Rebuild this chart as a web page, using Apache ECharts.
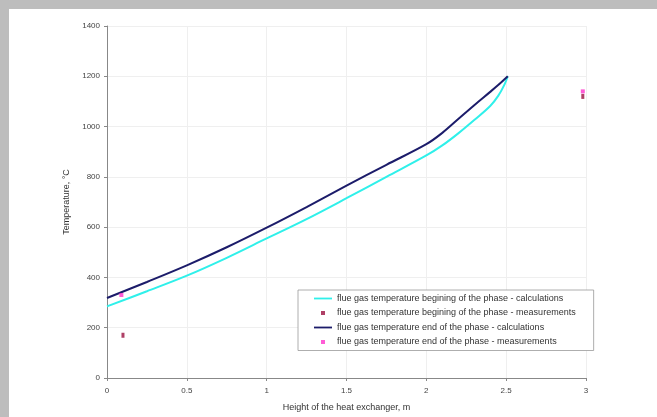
<!DOCTYPE html>
<html>
<head>
<meta charset="utf-8">
<script src="https://cdn.jsdelivr.net/npm/echarts@6/dist/echarts.min.js"></script>
<style>
html,body{margin:0;padding:0;background:#bdbdbd;}
#frame{position:absolute;left:9px;top:9px;width:648px;height:408px;background:#fff;}
#chart{position:absolute;left:0;top:0;width:657px;height:417px;}
</style>
</head>
<body>
<div id="frame"></div>
<div id="chart"></div>
<script>
const beginCalcX = [0, 0.25, 0.5, 0.75, 1.0, 1.25, 1.5, 1.75, 2.0, 2.1, 2.2, 2.3, 2.4, 2.45, 2.49, 2.51];
const beginCalcY = [285, 345, 407, 478, 555, 632, 715, 800, 885, 925, 973, 1026, 1082, 1122, 1168, 1200];
const endCalcX = [0, 0.25, 0.5, 0.75, 1.0, 1.25, 1.5, 1.75, 2.0, 2.1, 2.2, 2.3, 2.4, 2.45, 2.49, 2.51];
const endCalcY = [318, 382, 448, 520, 598, 680, 765, 848, 930, 975, 1030, 1085, 1138, 1165, 1188, 1200];
const beginMeasX = [0.1, 2.98];
const beginMeasY = [170, 1120];
const endMeasX = [0.09, 2.98];
const endMeasY = [330, 1140];
const seriesNames = [
  'flue gas temperature begining of the phase - calculations',
  'flue gas temperature begining of the phase - measurements',
  'flue gas temperature end of the phase - calculations',
  'flue gas temperature end of the phase - measurements'
];
const zip = (xs, ys) => xs.map((x, i) => [x, ys[i]]);
const font = '"Liberation Sans", Arial, sans-serif';
const lineIcon = 'path://M0,0L20,0L20,2L0,2Z';
const dotIcon = 'path://M0,0L1,0L1,1L0,1Z';
const chart = echarts.init(document.getElementById('chart'));
chart.setOption({
  animation: false,
  backgroundColor: 'transparent',
  grid: {left: 107, right: 71, top: 26, bottom: 37},
  legend: {
    orient: 'vertical', left: 298, top: 290,
    padding: [4, 18, 4, 16],
    itemGap: 5.5, itemWidth: 18, itemHeight: 4, symbolKeepAspect: true,
    backgroundColor: '#fff', borderColor: '#999', borderWidth: 0.8,
    textStyle: {fontFamily: font, fontSize: 9, lineHeight: 9, color: '#333'},
    data: [
      {name: seriesNames[0], icon: lineIcon},
      {name: seriesNames[1], icon: dotIcon},
      {name: seriesNames[2], icon: lineIcon},
      {name: seriesNames[3], icon: dotIcon}
    ]
  },
  xAxis: {
    type: 'value', min: 0, max: 3, interval: 0.5,
    name: 'Height of the heat exchanger, m', nameLocation: 'middle', nameGap: 25,
    nameTextStyle: {fontFamily: font, fontSize: 9, color: '#333'},
    axisLine: {show: true, lineStyle: {color: '#888', width: 1}},
    axisTick: {show: true, length: 3, lineStyle: {color: '#888'}},
    axisLabel: {fontFamily: font, fontSize: 8, color: '#444', margin: 9},
    splitLine: {show: true, lineStyle: {color: '#efefef', width: 1}}
  },
  yAxis: {
    type: 'value', min: 0, max: 1400, interval: 200,
    name: 'Temperature, °C', nameLocation: 'middle', nameGap: 33,
    nameTextStyle: {fontFamily: font, fontSize: 9, color: '#333'},
    axisLine: {show: true, lineStyle: {color: '#888', width: 1}},
    axisTick: {show: true, length: 3, lineStyle: {color: '#888'}},
    axisLabel: {fontFamily: font, fontSize: 8, color: '#444', margin: 7, formatter: v => String(v)},
    splitLine: {show: true, lineStyle: {color: '#efefef', width: 1}}
  },
  series: [
    {name: seriesNames[0], type: 'line', data: zip(beginCalcX, beginCalcY), smooth: 0.35,
     showSymbol: false, symbol: 'none', lineStyle: {color: '#2ff0ea', width: 2}, itemStyle: {color: '#2ff0ea'}, z: 3},
    {name: seriesNames[1], type: 'scatter', data: zip(beginMeasX, beginMeasY), symbol: 'rect', symbolSize: [3, 5],
     itemStyle: {color: '#9b1040'}, z: 5},
    {name: seriesNames[2], type: 'line', data: zip(endCalcX, endCalcY), smooth: 0.35,
     showSymbol: false, symbol: 'none', lineStyle: {color: '#1c1c6a', width: 2}, itemStyle: {color: '#1c1c6a'}, z: 3},
    {name: seriesNames[3], type: 'scatter', data: zip(endMeasX, endMeasY), symbol: 'rect', symbolSize: [4, 4],
     itemStyle: {color: '#ff33cc'}, z: 4}
  ]
});
</script>
</body>
</html>
